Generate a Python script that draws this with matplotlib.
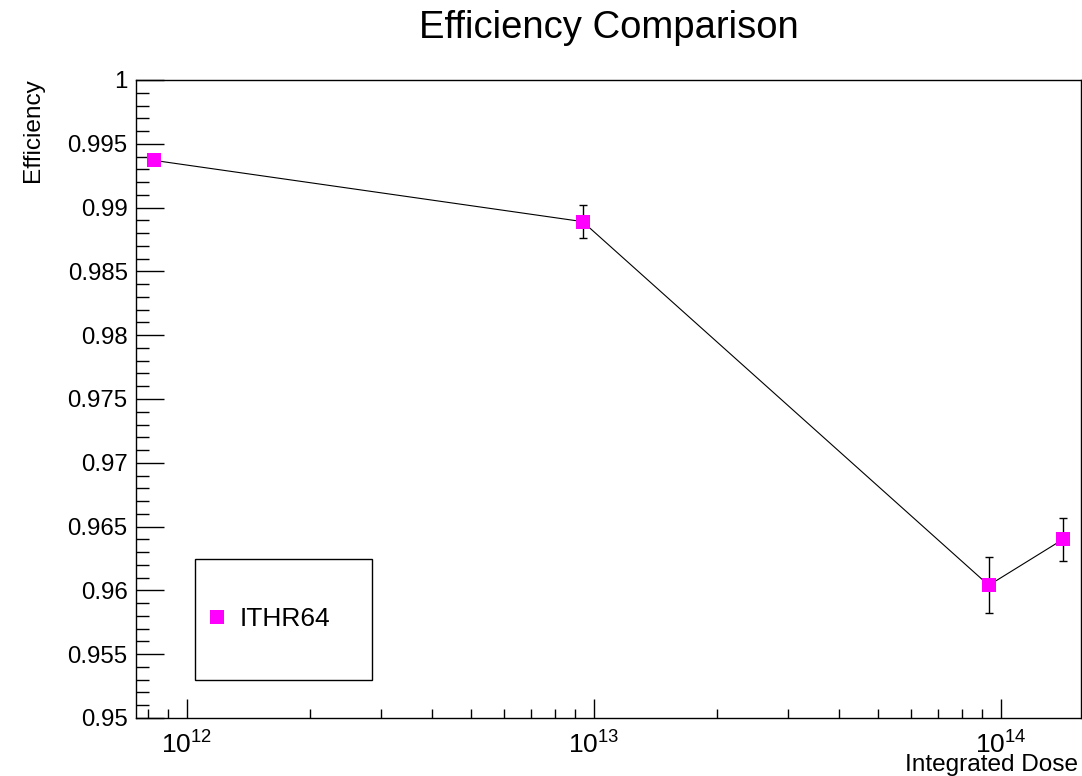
import matplotlib
matplotlib.use("Agg")
import matplotlib.pyplot as plt
from matplotlib.ticker import MultipleLocator, FuncFormatter, LogLocator, NullFormatter, LogFormatterSciNotation
from matplotlib.patches import Rectangle

# ---- data ----
series_name = "ITHR64"
dose = [8.3e11, 9.38e12, 9.33e13, 1.42e14]
efficiency = [0.9937, 0.9889, 0.9604, 0.9640]
eff_err = [0.0003, 0.0013, 0.0022, 0.0017]

title = "Efficiency Comparison"
xlabel = "Integrated Dose"
ylabel = "Efficiency"

plt.rcParams['font.family'] = ['Liberation Sans', 'DejaVu Sans']
plt.rcParams['mathtext.fontset'] = 'custom'
plt.rcParams['mathtext.rm'] = 'Liberation Sans'
plt.rcParams['mathtext.it'] = 'Liberation Sans:italic'
plt.rcParams['mathtext.bf'] = 'Liberation Sans:bold'

W, H = 1082, 776
fig = plt.figure(figsize=(W / 100, H / 100), dpi=100)
L, R, T, B = 136, 1081, 80, 718
ax = fig.add_axes([L / W, 1 - B / H, (R - L) / W, (B - T) / H])

ax.errorbar(dose, efficiency, yerr=eff_err, fmt='none', ecolor='black',
            elinewidth=1.0, capsize=3.2, capthick=1.0, zorder=2)
ax.plot(dose, efficiency, color='black', lw=0.8, zorder=3)
ax.plot(dose, efficiency, ls='none', marker='s', ms=10, mfc='#ff00ff',
        mec='#ff00ff', mew=0, zorder=4, label=series_name)

ax.set_xscale('log')
ax.set_xlim(10 ** 11.8747, 10 ** 14.1966)
ax.set_ylim(0.95, 1.0)

ax.yaxis.set_major_locator(MultipleLocator(0.005))
ax.yaxis.set_minor_locator(MultipleLocator(0.001))
ax.yaxis.set_major_formatter(FuncFormatter(lambda v, p: ('%.3f' % v).rstrip('0').rstrip('.')))

ax.xaxis.set_major_locator(LogLocator(base=10, numticks=10))
ax.xaxis.set_minor_locator(LogLocator(base=10, subs=range(2, 10), numticks=20))
ax.xaxis.set_minor_formatter(NullFormatter())
ax.xaxis.set_major_formatter(LogFormatterSciNotation())

ax.tick_params(axis='y', which='major', direction='in', length=20, width=1.0, labelsize=17.3, pad=6)
ax.tick_params(axis='y', which='minor', direction='in', length=9.5, width=1.0)
ax.tick_params(axis='x', which='major', direction='in', length=14, width=1.0, labelsize=19, pad=10)
ax.tick_params(axis='x', which='minor', direction='in', length=6.5, width=1.0)
ax.tick_params(top=False, right=False, which='both')

for s in ax.spines.values():
    s.set_linewidth(1.0)

# axis labels
ax.set_xlabel(xlabel, fontsize=17.6, loc='right')
ax.xaxis.label.set_va('baseline')
ax.xaxis.set_label_coords(1 - 3 / (R - L), (B - 771) / (B - T))
ax.set_ylabel(ylabel, fontsize=17.6, loc='top')
ax.yaxis.label.set_va('baseline')
ax.yaxis.set_label_coords((39 - L) / (R - L), 1 + 2 / (B - T))

fig.text(608.5 / W, 1 - 38 / H, title, ha='center', va='baseline', fontsize=27.5)

# legend box
bx0, bx1, by0, by1 = 195, 372, 559, 680
ax.add_patch(Rectangle(((bx0 - L) / (R - L), (B - by1) / (B - T)),
                       (bx1 - bx0) / (R - L), (by1 - by0) / (B - T),
                       transform=ax.transAxes, fill=False, ec='black', lw=1.0, zorder=5))
leg = ax.legend(loc='center left', bbox_to_anchor=((203.5 - L) / (R - L), (B - 619) / (B - T)),
                frameon=False, fontsize=19, handlelength=1.0, handletextpad=0.38,
                borderpad=0, borderaxespad=0, markerscale=0.95)

fig.savefig('out.png', dpi=100)
